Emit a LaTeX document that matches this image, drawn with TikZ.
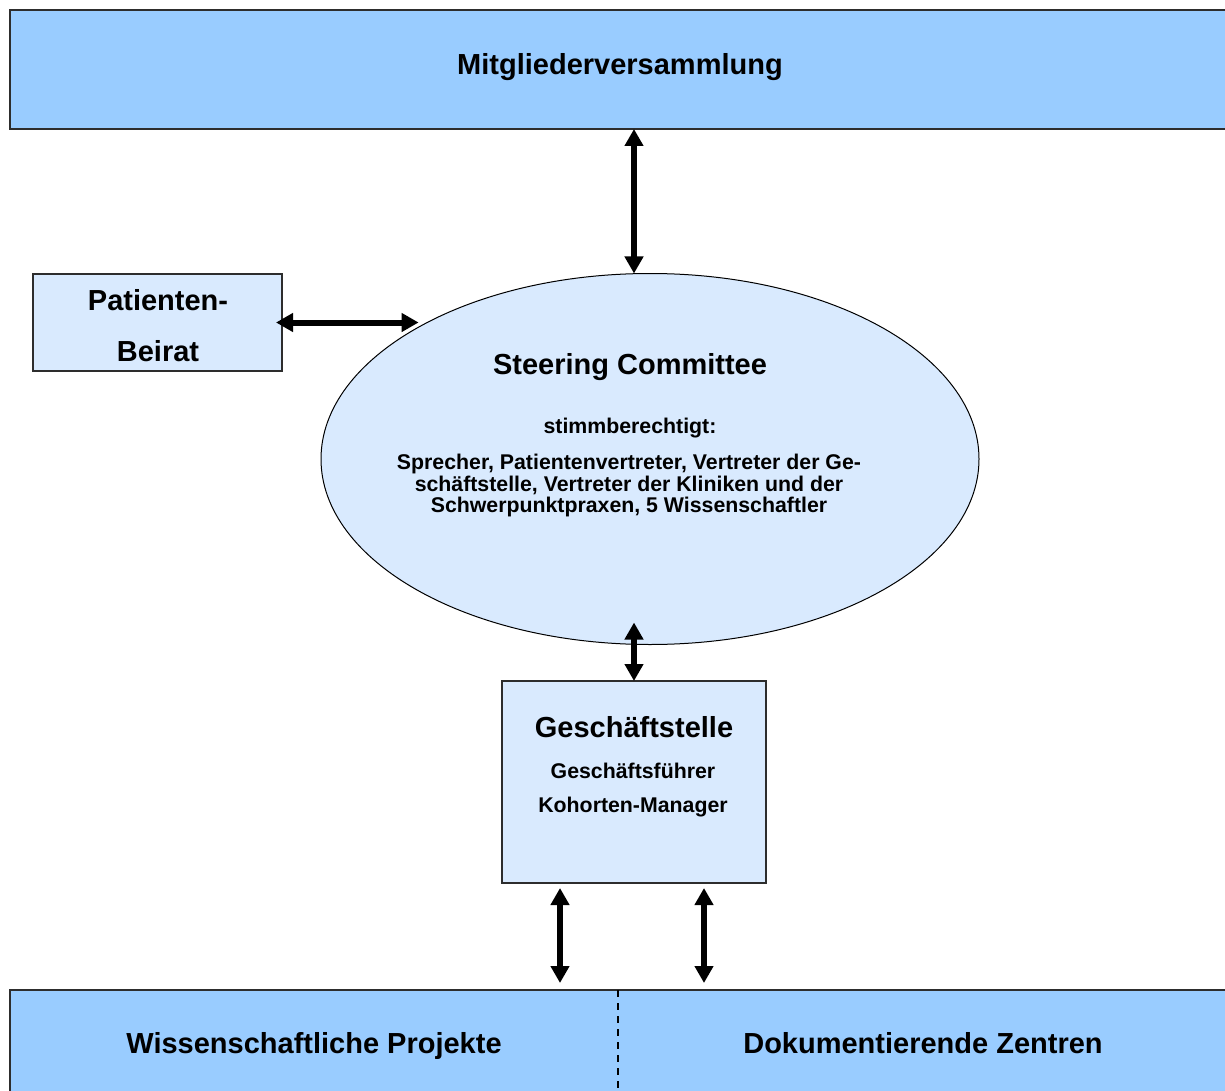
\documentclass[tikz,border=0pt]{standalone}
\usepackage{fontspec}
\setmainfont{Liberation Sans}
\usetikzlibrary{arrows.meta,shapes.geometric}
\definecolor{boxblue}{RGB}{153,204,255}
\definecolor{lightblue}{RGB}{217,234,254}
\definecolor{edgegray}{RGB}{45,45,45}
\begin{document}
\begin{tikzpicture}[x=1pt,y=-1pt,
  bigtext/.style={font=\fontsize{29}{34}\selectfont\bfseries, anchor=base, inner sep=0pt},
  smalltext/.style={font=\fontsize{21.3}{22}\selectfont\bfseries, anchor=base, inner sep=0pt},
  outerbox/.style={draw=edgegray, line width=1.6pt, fill=boxblue, rectangle, inner sep=0pt, outer sep=0pt},
  innerbox/.style={draw=edgegray, line width=1.2pt, fill=lightblue, rectangle, inner sep=0pt, outer sep=0pt},
  dbl/.style={line width=6pt, {Triangle[width=18pt,length=17pt]}-{Triangle[width=18pt,length=17pt]}}]
\useasboundingbox (0,0) rectangle (1225,1091);
\clip (0,0) rectangle (1225,1091);

% boxes
\node[outerbox, minimum width=1230pt, minimum height=119pt] (mv) at (625,69.5) {};
\node[innerbox, minimum width=249pt, minimum height=97pt] (pb) at (157.5,322.5) {};
\node[ellipse, draw=black, line width=1pt, fill=lightblue, inner sep=0pt, outer sep=0pt,
      minimum width=658pt, minimum height=371pt] (sc) at (650,459) {};
\node[innerbox, minimum width=264pt, minimum height=202pt] (gs) at (634,782) {};
\node[outerbox, minimum width=1230pt, minimum height=110pt] (bb) at (625,1045) {};

% texts
\node[bigtext] (mvt) at (620,75) {Mitgliederversammlung};
\node[bigtext] (pbt1) at (158,310) {Patienten-};
\node[bigtext] (pbt2) at (158,361) {Beirat};
\node[bigtext] (sct) at (630,374) {Steering Committee};
\node[smalltext] (scs) at (630,433) {stimmberechtigt:};
\node[smalltext] (scl1) at (629,469) {Sprecher, Patientenvertreter, Vertreter der Ge-};
\node[smalltext] (scl2) at (629,491) {schäftstelle, Vertreter der Kliniken und der};
\node[smalltext] (scl3) at (629,512) {Schwerpunktpraxen, 5 Wissenschaftler};
\node[bigtext] (gst) at (634,737) {Geschäftstelle};
\node[smalltext] (gs1) at (633,778) {Geschäftsführer};
\node[smalltext] (gs2) at (633,812) {Kohorten-Manager};
\node[bigtext] (wp) at (314,1053) {Wissenschaftliche Projekte};
\node[bigtext] (dz) at (923,1053) {Dokumentierende Zentren};

% divider
\draw[line width=1.5pt, dash pattern=on 7pt off 6pt] ([xshift=-7pt]bb.north) -- ([xshift=-7pt]bb.south);

% connectors
\draw[dbl] (gs.north |- mv.south) -- (gs.north |- sc.north);
\coordinate (pe) at (sc.148.3 |- pb.east);
\draw[dbl, shorten >=11pt] ([xshift=-6pt]pb.east) -- (pe);
\coordinate (m1) at ([yshift=22pt]sc.south);
\draw[dbl] (m1 -| gs.north) -- (gs.north);
\coordinate (b1) at ([xshift=-74pt,yshift=-5pt]gs.south);
\coordinate (b2) at ([xshift=70pt,yshift=-5pt]gs.south);
\draw[dbl, shorten >=7pt] (b1) -- (b1 |- bb.north);
\draw[dbl, shorten >=7pt] (b2) -- (b2 |- bb.north);
\end{tikzpicture}
\end{document}
